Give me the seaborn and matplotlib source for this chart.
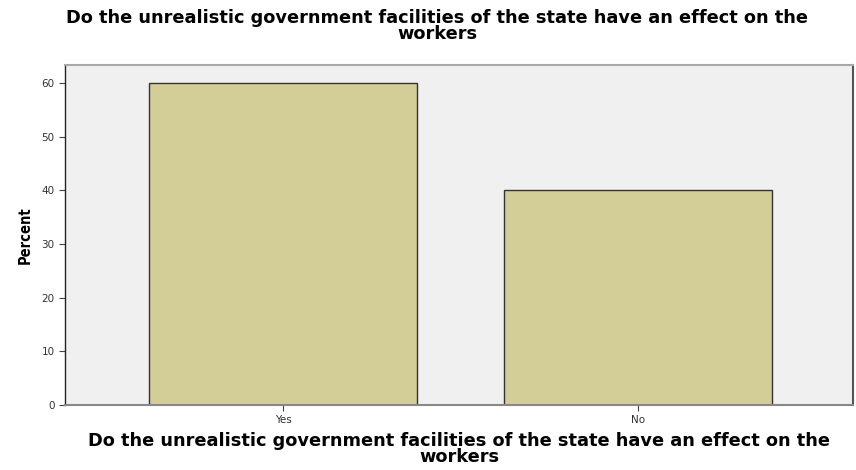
import pandas as pd
import seaborn as sns
import matplotlib.pyplot as plt

answers = ["Yes", "No"]
percent = [60, 40]
title = "Do the unrealistic government facilities of the state have an effect on the\nworkers"

df = pd.DataFrame({"answer": answers, "percent": percent})

sns.set_theme(style="white")
plt.rcParams["font.family"] = ["DejaVu Sans"]

fig = plt.figure(figsize=(8.56, 4.70), dpi=100)
ax = fig.add_axes([65 / 856, 65 / 470, 788 / 856, 340 / 470])
ax.set_facecolor("#f0f0f0")

sns.barplot(
    data=df, x="answer", y="percent", color="#d3ce97", saturation=1,
    width=0.755, edgecolor="#333333", linewidth=1.0, ax=ax,
)

ax.set_xlim(-0.614, 1.606)
ax.set_ylim(0, 63.4)
ax.set_yticks(range(0, 61, 10))
ax.tick_params(axis="both", labelsize=7.5, colors="#444444", length=4,
               width=0.8, direction="out", left=True, bottom=True)
for lbl in ax.get_xticklabels() + ax.get_yticklabels():
    lbl.set_color("#333333")

for side in ["top", "right"]:
    ax.spines[side].set_color("#a8a8a8")
    ax.spines[side].set_linewidth(1.5)
ax.spines["right"].set_color("#555555")
ax.spines["left"].set_color("#222222")
ax.spines["bottom"].set_color("#888888")
ax.spines["left"].set_linewidth(1.0)
ax.spines["bottom"].set_linewidth(1.5)

ax.set_ylabel("Percent", fontsize=10.5, fontweight="bold", fontstretch="condensed",
              color="black", labelpad=6)
ax.set_xlabel(title, fontsize=12.8, fontweight="bold", color="black",
              linespacing=0.8, labelpad=5)
fig.suptitle(title, fontsize=12.8, fontweight="bold", color="black",
             x=0.511, y=0.98, linespacing=0.8)

fig.savefig("out.png", dpi=100)
